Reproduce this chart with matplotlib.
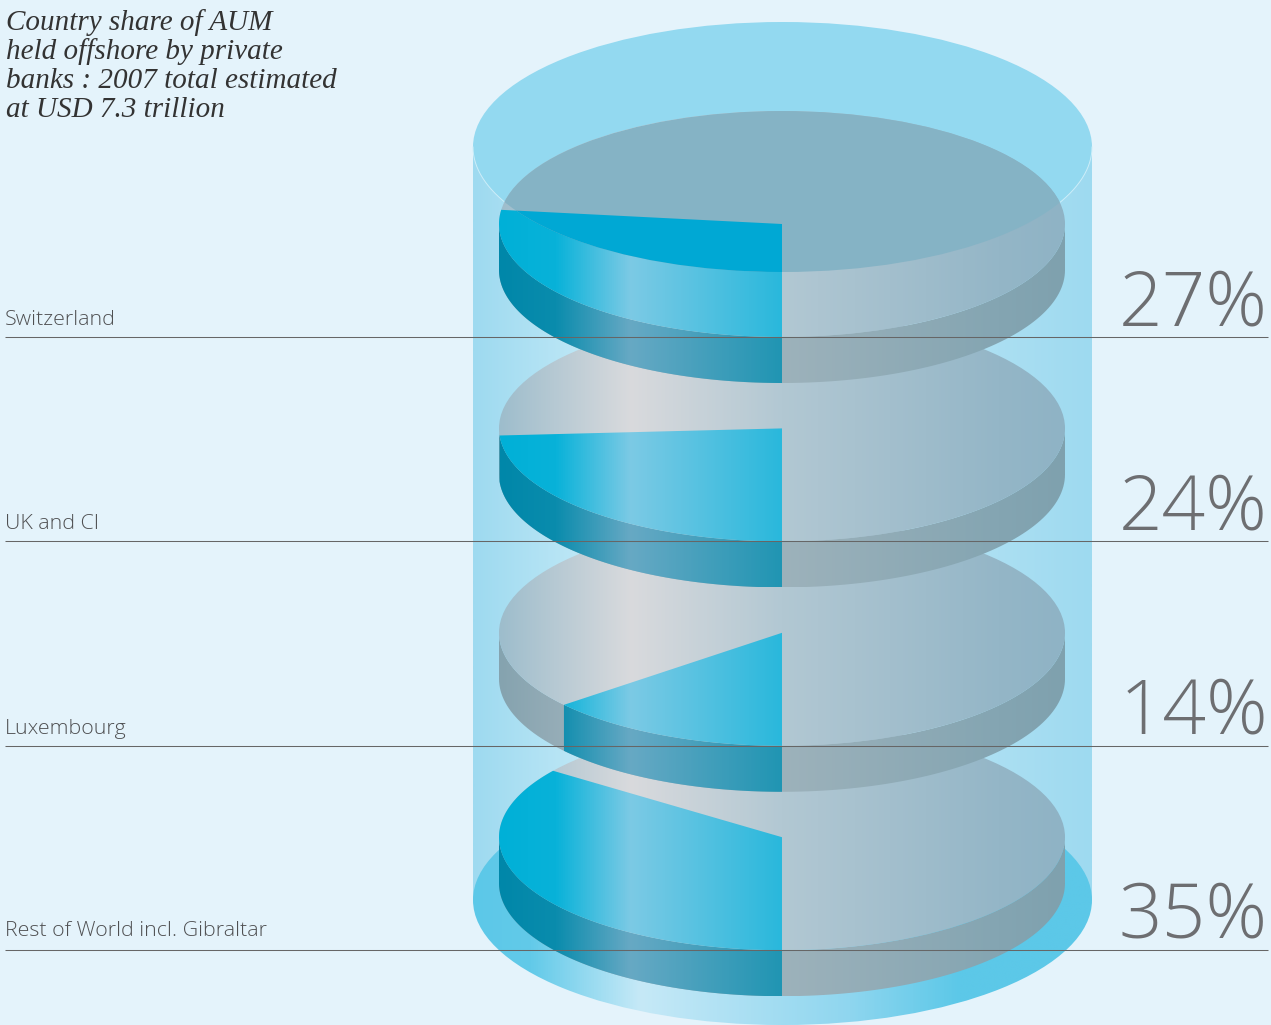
import numpy as np
import matplotlib
matplotlib.use("Agg")
import matplotlib.pyplot as plt
from matplotlib.colors import LinearSegmentedColormap, to_rgb
from matplotlib.patches import Ellipse, Polygon, Rectangle

# Data
countries = ["Switzerland", "UK and CI", "Luxembourg", "Rest of World incl. Gibraltar"]
shares = [27, 24, 14, 35]
title_lines = ["Country share of AUM", "held offshore by private",
               "banks : 2007 total estimated", "at USD 7.3 trillion"]

# Geometry of the stacked discs, in figure pixels
WIDTH, HEIGHT = 1271, 1025
CX = 782
DISC_RX, DISC_RY, DISC_DEPTH = 283, 113, 46
FIRST_CY, CY_STEP = 224, 204.4
GLASS_CX, GLASS_RX, GLASS_RY = 782.5, 309.5, 125
GLASS_TOP_CY, GLASS_BOTTOM_CY = 147, 900
NAME_LIFT = [12, 12, 12, 14]

BG = "#e4f3fb"
GLASS_CAP = "#93d9f0"
DIMMED_GREY = "#85b3c5"
DIMMED_CYAN = "#00a8d4"


def ramp(x0, x1, stops):
    """Colormap from (pixel x, colour) stops spanning x0..x1."""
    pairs = [((x - x0) / (x1 - x0), to_rgb(c)) for x, c in stops]
    return LinearSegmentedColormap.from_list("ramp", pairs, N=256)


LEFT, RIGHT = CX - DISC_RX, CX + DISC_RX
GREY_TOP = ramp(LEFT, RIGHT, [(LEFT, "#9dbdcc"), (630, "#d9dadd"), (782, "#b2c8d3"),
                              (1000, "#94b6c7"), (RIGHT, "#8fb3c5")])
GREY_SIDE = ramp(LEFT, RIGHT, [(LEFT, "#85a3af"), (630, "#aab9c2"), (782, "#9db2bb"),
                               (1000, "#84a5b2"), (RIGHT, "#7fa1ae")])
CYAN_TOP = ramp(LEFT, RIGHT, [(LEFT, "#00b0d7"), (555, "#08b2d9"), (630, "#7ccae5"),
                              (782, "#29b8dc"), (RIGHT, "#29b8dc")])
CYAN_SIDE = ramp(LEFT, RIGHT, [(LEFT, "#0087a9"), (555, "#0a8cad"), (630, "#67a9c4"),
                               (782, "#2095b3"), (RIGHT, "#2095b3")])
BODY = ramp(473, 1092, [(473, "#9edaf0"), (620, "#c9ecf8"), (850, "#c0e7f6"), (1092, "#9edaf0")])
BASE = ramp(473, 1092, [(473, "#5cc8e8"), (530, "#62cae9"), (640, "#c6e9f7"),
                        (850, "#8fd6ef"), (960, "#5cc8e8"), (1092, "#5cc8e8")])


def arc(cy, a0, a1, drop=0, n=120):
    """Points along a disc rim between two angles, lowered by drop pixels."""
    t = np.radians(np.linspace(a0, a1, n))
    return np.column_stack([CX + DISC_RX * np.cos(t), cy - DISC_RY * np.sin(t) + drop])


def shade(ax, patch, cmap, x0, x1, y0, y1, z):
    """Fill a clipped region with a horizontal colour ramp."""
    ax.add_patch(patch)
    patch.set_facecolor("none")
    patch.set_edgecolor("none")
    patch.set_zorder(z)
    img = ax.imshow(np.linspace(0, 1, 512)[None, :], cmap=cmap, vmin=0, vmax=1,
                    extent=(x0, x1, y1, y0), aspect="auto", zorder=z, interpolation="bilinear")
    img.set_clip_path(patch)


fig = plt.figure(figsize=(WIDTH / 100, HEIGHT / 100), dpi=100, facecolor=BG)
ax = fig.add_axes([0, 0, 1, 1])
ax.set_axis_off()

# Glass cylinder behind the discs: wall, floor, then cap
x0, x1 = GLASS_CX - GLASS_RX, GLASS_CX + GLASS_RX
shade(ax, Rectangle((x0, GLASS_TOP_CY), x1 - x0, GLASS_BOTTOM_CY - GLASS_TOP_CY), BODY,
      x0, x1, GLASS_TOP_CY, GLASS_BOTTOM_CY, 1)
shade(ax, Ellipse((GLASS_CX, GLASS_BOTTOM_CY), 2 * GLASS_RX, 2 * GLASS_RY), BASE,
      x0, x1, GLASS_BOTTOM_CY - GLASS_RY, GLASS_BOTTOM_CY + GLASS_RY, 2)
ax.add_patch(Ellipse((GLASS_CX, GLASS_TOP_CY), 2 * GLASS_RX, 2 * GLASS_RY, fc=GLASS_CAP,
                     ec="none", zorder=3))
rim = np.radians(np.linspace(180, 360, 200))
ax.plot(GLASS_CX + GLASS_RX * np.cos(rim), GLASS_TOP_CY - GLASS_RY * np.sin(rim),
        color="#cdeef9", lw=0.7, zorder=3.5)

# One disc per country; the upper discs overlap the lower ones
for i in reversed(range(len(shares))):
    cy = FIRST_CY + i * CY_STEP
    z = 10 + (len(shares) - i) * 2
    end = 270 - shares[i] * 3.6

    wall = np.vstack([arc(cy, 180, 360), arc(cy, 360, 180, DISC_DEPTH)])
    shade(ax, Polygon(wall), GREY_SIDE, LEFT, RIGHT, cy, cy + DISC_RY + DISC_DEPTH, z)
    shade(ax, Ellipse((CX, cy), 2 * DISC_RX, 2 * DISC_RY), GREY_TOP,
          LEFT, RIGHT, cy - DISC_RY, cy + DISC_RY, z + 0.1)

    cut_wall = np.vstack([arc(cy, max(end, 180), 270), arc(cy, 270, max(end, 180), DISC_DEPTH)])
    shade(ax, Polygon(cut_wall), CYAN_SIDE, LEFT, RIGHT, cy - DISC_RY, cy + DISC_RY + DISC_DEPTH, z + 0.2)
    slice_pts = np.vstack([[CX, cy], arc(cy, end, 270)])
    shade(ax, Polygon(slice_pts), CYAN_TOP, LEFT, RIGHT, cy - DISC_RY, cy + DISC_RY, z + 0.3)

    # The top disc sits partly under the cylinder's cap, which flattens its colours
    if i == 0:
        cap = Ellipse((GLASS_CX, GLASS_TOP_CY), 2 * GLASS_RX, 2 * GLASS_RY,
                      fc="none", ec="none", zorder=z + 0.4)
        ax.add_patch(cap)
        top = ax.add_patch(Ellipse((CX, cy), 2 * DISC_RX, 2 * DISC_RY, fc=DIMMED_GREY,
                                   ec="none", zorder=z + 0.4))
        top.set_clip_path(cap)
        cut = ax.add_patch(Polygon(slice_pts, fc=DIMMED_CYAN, ec="none", zorder=z + 0.5))
        cut.set_clip_path(cap)

    # Rule, country name and share
    rule_y = round(cy + DISC_RY)
    ax.plot([5, 1268], [rule_y, rule_y], color="#666666", lw=0.75, zorder=30,
            solid_capstyle="butt")
    ax.text(5, rule_y - NAME_LIFT[i], countries[i], family="Open Sans", weight="light",
            fontsize=15.4, color="#4f5052", ha="left", va="baseline", zorder=31)
    ax.text(1268, rule_y - 12, f"{shares[i]}%", family="Open Sans", weight="light", fontsize=55,
            color="#6d6e71", ha="right", va="baseline", zorder=31)

# Heading
for k, line in enumerate(title_lines):
    ax.text(6, 30 + k * 29, line, family="Liberation Serif", style="italic", fontsize=21,
            color="#333333", ha="left", va="baseline", zorder=31)

ax.set_xlim(0, WIDTH)
ax.set_ylim(HEIGHT, 0)
fig.savefig("out.png", dpi=100, facecolor=BG)
